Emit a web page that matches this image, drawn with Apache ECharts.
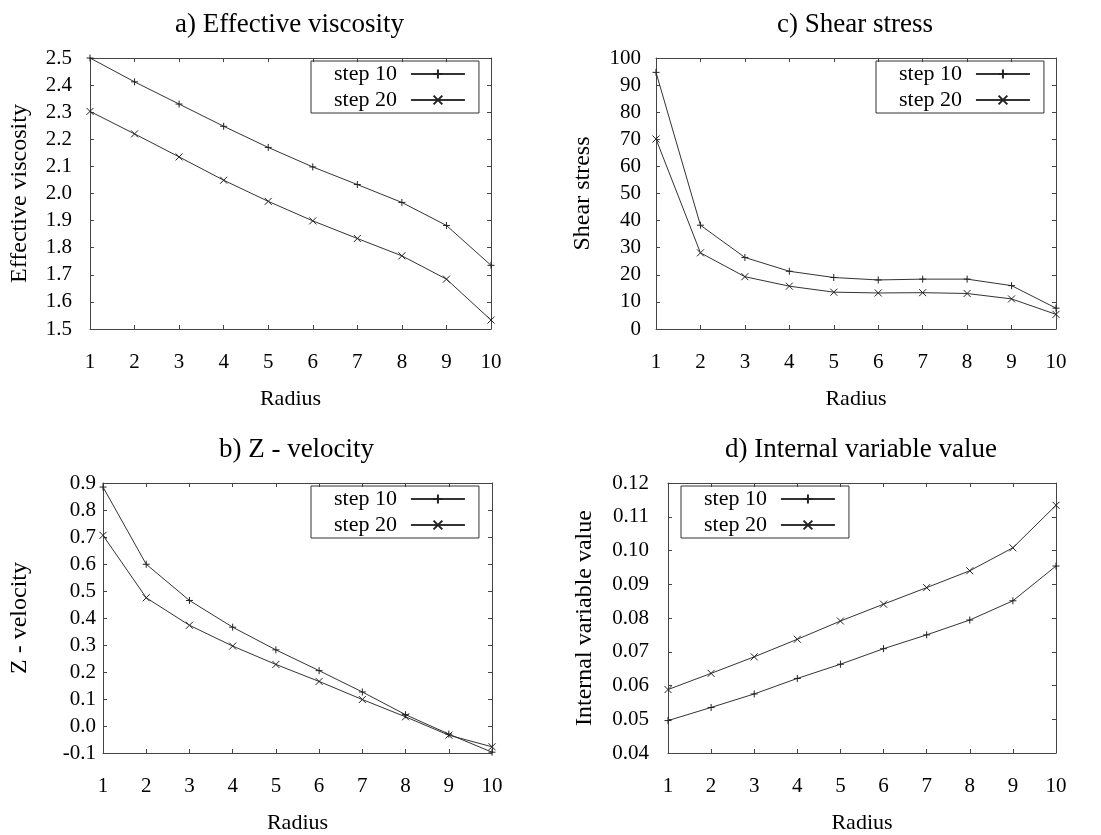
<!DOCTYPE html>
<html>
<head>
<meta charset="utf-8">
<script src="https://cdn.jsdelivr.net/npm/echarts@6/dist/echarts.min.js"></script>
<style>
  html, body { margin: 0; padding: 0; background: #fff; }
  #main { width: 1101px; height: 835px; }
</style>
</head>
<body>
<div id="main"></div>
<script>
// x values (Radius)
var radius = [1, 2, 3, 4, 5, 6, 7, 8, 9, 10];

// a) Effective viscosity
var viscStep10 = [2.500, 2.412, 2.330, 2.248, 2.170, 2.098, 2.033, 1.967, 1.882, 1.735];
var viscStep20 = [2.303, 2.220, 2.135, 2.049, 1.971, 1.899, 1.834, 1.770, 1.684, 1.533];

// c) Shear stress
var stressStep10 = [94.7, 38.3, 26.4, 21.3, 19.0, 18.1, 18.4, 18.4, 16.0, 7.7];
var stressStep20 = [70.1, 28.1, 19.3, 15.8, 13.6, 13.3, 13.4, 13.1, 11.1, 5.4];

// b) Z - velocity
var velStep10 = [0.885, 0.599, 0.465, 0.366, 0.282, 0.205, 0.126, 0.042, -0.030, -0.097];
var velStep20 = [0.706, 0.475, 0.373, 0.296, 0.228, 0.165, 0.098, 0.034, -0.034, -0.077];

// d) Internal variable value
var internalStep10 = [0.0496, 0.0535, 0.0575, 0.0621, 0.0663, 0.0709, 0.0750, 0.0794, 0.0851, 0.0954];
var internalStep20 = [0.0588, 0.0636, 0.0685, 0.0737, 0.0791, 0.0841, 0.0890, 0.0940, 0.1008, 0.1134];

var seriesNames = ['step 10', 'step 20'];

var font = 'Liberation Serif';
var plusPath = 'path://M0,5L10,5M5,0L5,10';
var crossPath = 'path://M0,0L10,10M10,0L0,10';

// layout of the four panels
var panels = [
  { title: 'a) Effective viscosity', yName: 'Effective viscosity', s10: viscStep10, s20: viscStep20,
    min: 1.5, max: 2.5, interval: 0.1, dec: 1,
    grid: { left: 90, top: 58, width: 401, height: 271 }, labelMargin: 18, nameGap: 58,
    legend: { left: 311, top: 61 } },
  { title: 'c) Shear stress', yName: 'Shear stress', s10: stressStep10, s20: stressStep20,
    min: 0, max: 100, interval: 10, dec: 0,
    grid: { left: 656, top: 58, width: 400, height: 271 }, labelMargin: 15, nameGap: 61,
    legend: { left: 876, top: 61 } },
  { title: 'b) Z - velocity', yName: 'Z - velocity', s10: velStep10, s20: velStep20,
    min: -0.1, max: 0.9, interval: 0.1, dec: 1,
    grid: { left: 103, top: 483, width: 389, height: 270 }, labelMargin: 7, nameGap: 71,
    legend: { left: 311, top: 486 } },
  { title: 'd) Internal variable value', yName: 'Internal variable value', s10: internalStep10, s20: internalStep20,
    min: 0.04, max: 0.12, interval: 0.01, dec: 2,
    grid: { left: 668, top: 483, width: 388, height: 270 }, labelMargin: 19, nameGap: 71,
    legend: { left: 681, top: 486 } }
];

var chart = echarts.init(document.getElementById('main'));

var option = {
  backgroundColor: '#fff',
  animation: false,
  title: [], grid: [], xAxis: [], yAxis: [], legend: [], series: []
};

var frameColor = '#444';

panels.forEach(function (p, i) {
  var g = p.grid;
  option.grid.push({ left: g.left, top: g.top, width: g.width, height: g.height, show: false });

  option.title.push({
    text: p.title,
    left: g.left + g.width / 2 - 6,
    top: g.top - 52,
    textAlign: 'center',
    textStyle: { fontFamily: font, fontSize: 27, fontWeight: 'normal', color: '#000' }
  });

  // bottom x axis
  option.xAxis.push({
    type: 'value', gridIndex: i, min: 1, max: 10, interval: 1,
    name: 'Radius', nameLocation: 'middle', nameGap: 59,
    nameTextStyle: { fontFamily: font, fontSize: 22, color: '#000' },
    axisLine: { onZero: false, lineStyle: { color: frameColor, width: 1 } },
    axisTick: { inside: true, length: 4, lineStyle: { color: frameColor } },
    axisLabel: { fontFamily: font, fontSize: 21, color: '#000', margin: 23 },
    splitLine: { show: false }
  });
  // top mirror axis
  option.xAxis.push({
    type: 'value', gridIndex: i, min: 1, max: 10, interval: 1, position: 'top',
    axisLine: { onZero: false, lineStyle: { color: frameColor, width: 1 } },
    axisTick: { inside: true, length: 4, lineStyle: { color: frameColor } },
    axisLabel: { show: false },
    splitLine: { show: false }
  });

  // left y axis
  option.yAxis.push({
    type: 'value', gridIndex: i, min: p.min, max: p.max, interval: p.interval,
    name: p.yName, nameLocation: 'middle', nameGap: p.nameGap,
    nameTextStyle: { fontFamily: font, fontSize: 24, color: '#000' },
    axisLine: { show: true, onZero: false, lineStyle: { color: frameColor, width: 1 } },
    axisTick: { show: true, inside: true, length: 4, lineStyle: { color: frameColor } },
    axisLabel: {
      fontFamily: font, fontSize: 21, color: '#000', margin: p.labelMargin,
      formatter: function (v) { return v.toFixed(p.dec); }
    },
    splitLine: { show: false }
  });
  // right mirror axis
  option.yAxis.push({
    type: 'value', gridIndex: i, min: p.min, max: p.max, interval: p.interval, position: 'right',
    axisLine: { show: true, onZero: false, lineStyle: { color: frameColor, width: 1 } },
    axisTick: { show: true, inside: true, length: 4, lineStyle: { color: frameColor } },
    axisLabel: { show: false },
    splitLine: { show: false }
  });

  option.legend.push({
    data: seriesNames,
    left: p.legend.left, top: p.legend.top,
    orient: 'vertical', align: 'right',
    itemWidth: 54, itemHeight: 11, itemGap: 4,
    padding: [2, 13, 2, 23],
    borderColor: '#333', borderWidth: 1,
    textStyle: { fontFamily: font, fontSize: 22, color: '#000', padding: [0, 9, 0, 0] }
  });

  var sets = [p.s10, p.s20];
  var syms = [plusPath, crossPath];
  sets.forEach(function (vals, k) {
    option.series.push({
      name: seriesNames[k],
      type: 'line',
      xAxisIndex: i * 2,
      yAxisIndex: i * 2,
      data: radius.map(function (r, j) { return [r, vals[j]]; }),
      symbol: syms[k],
      symbolSize: 7,
      showAllSymbol: true,
      lineStyle: { color: '#333', width: 1 },
      itemStyle: { color: 'rgba(0,0,0,0)', borderColor: '#222', borderWidth: 1 },
      emphasis: { disabled: true }
    });
  });
});

chart.setOption(option);
</script>
</body>
</html>
